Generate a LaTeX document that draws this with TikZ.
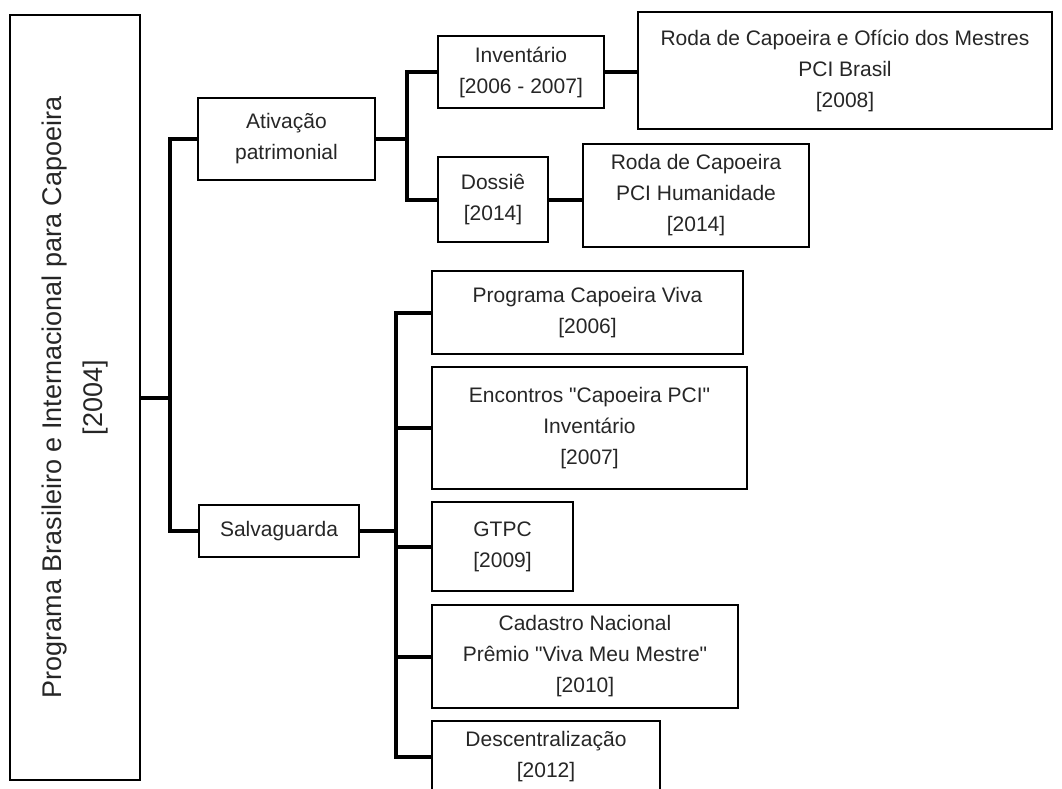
\documentclass[tikz,border=0pt]{standalone}
\usepackage{fontspec}
\setmainfont{Liberation Sans}[Ligatures=TeXOff]
\usetikzlibrary{positioning, calc}

\tikzset{
  box/.style={draw, line width=1.6pt, align=center, inner sep=0pt, text=black!85,
    font=\fontsize{21}{31}\selectfont},
  link/.style={line width=4pt},
}

\begin{document}
\begin{tikzpicture}[x=1pt,y=-1pt]
\useasboundingbox (0,0) rectangle (1062,789);
\clip (0,0) rectangle (1062,789);
% main programme, turned upright
\node[box, rotate=90, minimum width=765pt, minimum height=130pt,
  font=\fontsize{27}{41}\selectfont] (prog) at (75,397.5)
  {Programa Brasileiro e Internacional para Capoeira\\{}[2004]};
% two branches
\node[box, minimum width=177pt, minimum height=82pt] (ativ) at (286.5,139) {Ativação\\patrimonial};
\node[box, minimum width=160pt, minimum height=52pt] (salv) at (279,531) {Salvaguarda};
% ativacao patrimonial
\node[box, minimum width=166pt, minimum height=72pt] (inv) at (521,72) {Inventário\\{}[2006 - 2007]};
\node[box, minimum width=414pt, minimum height=117pt] (brasil) at (845,70.5)
  {Roda de Capoeira e Ofício dos Mestres\\PCI Brasil\\{}[2008]};
\node[box, minimum width=110pt, minimum height=85pt] (dossie) at (493,199.5) {Dossiê\\{}[2014]};
\node[box, minimum width=226pt, minimum height=103pt] (human) at (696,195.5)
  {Roda de Capoeira\\PCI Humanidade\\{}[2014]};
% salvaguarda
\node[box, minimum width=311pt, minimum height=83pt] (viva) at (587.5,312.5) {Programa Capoeira Viva\\{}[2006]};
\node[box, minimum width=315pt, minimum height=122pt] (encontros) at (589.5,428)
  {Encontros "Capoeira PCI"\\Inventário\\{}[2007]};
\node[box, minimum width=141pt, minimum height=89pt] (gtpc) at (502.5,546.5) {GTPC\\{}[2009]};
\node[box, minimum width=306pt, minimum height=103pt] (cadastro) at (585,656.5)
  {Cadastro Nacional\\Prêmio "Viva Meu Mestre"\\{}[2010]};
\node[box, minimum width=228pt, minimum height=72pt] (descent) at (546,757) {Descentralização\\{}[2012]};

% links
\coordinate (fork1) at (170,397.5);
\draw[link] (prog.south) -- (fork1);
\draw[link] (fork1) |- (ativ.west);
\draw[link] (fork1) |- (salv.west);
\coordinate (fork2) at (407,139);
\draw[link] (ativ.east) -- (fork2);
\draw[link] (fork2) |- (inv.west);
\draw[link] (fork2) |- (dossie.west);
\draw[link] (inv.east) -- (inv.east -| brasil.west);
\draw[link] (dossie.east) -- (dossie.east -| human.west);
\coordinate (fork3) at (396,531);
\draw[link] (salv.east) -- (fork3);
\foreach \n in {viva, encontros, gtpc, cadastro, descent}
  \draw[link] (fork3) |- (\n.west);
\end{tikzpicture}
\end{document}
